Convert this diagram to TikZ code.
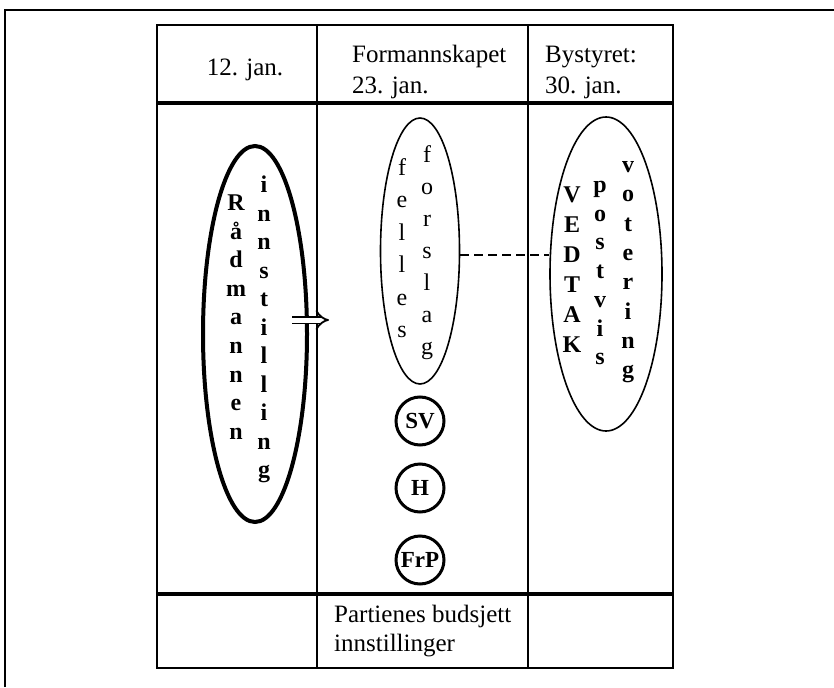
\documentclass[tikz,border=0pt]{standalone}
\usepackage{fontspec}
\setmainfont{Liberation Serif}
\usetikzlibrary{shapes.geometric,arrows.meta}
\begin{document}
\begin{tikzpicture}[x=1pt,y=-1pt,
  frame/.style={line width=2.5pt},
  rule/.style={line width=2.2pt},
  heavyrule/.style={line width=4pt},
  label/.style={font=\fontsize{25}{31}\selectfont, align=left, inner sep=0pt},
  footlabel/.style={font=\fontsize{25}{29}\selectfont, align=left, inner sep=0pt},
  letter/.style={font=\fontsize{24}{24}\selectfont, inner sep=0pt, text height=0.7em, text depth=0.2em},
  boldletter/.style={letter, font=\fontsize{24}{24}\selectfont\bfseries},
  oval/.style={draw, ellipse, inner sep=0pt},
  party/.style={draw, circle, line width=3pt, minimum size=48pt, inner sep=0pt, font=\fontsize{23}{23}\selectfont\bfseries},
  linkline/.style={line width=1.5pt, dash pattern=on 9pt off 5pt},
  implies/.style={double, double distance=5pt, line width=1.8pt, -{Implies[scale=1.3]}},
]
\useasboundingbox (0,0) rectangle (834,687);

% outer frame
\draw[frame] (5,687) -- (5,10) -- (834,10);

% table grid
\draw[rule] (157,25) rectangle (673,668);
\draw[rule] (317,25) -- (317,668);
\draw[rule] (528,25) -- (528,668);
\draw[heavyrule] (157,103) -- (673,103);
\draw[heavyrule] (157,594) -- (673,594);

% column headings
\node[label] (h1) at (245,70) {12. jan.};
\node[label, anchor=west] (h2) at (352,72) {Formannskapet\\23. jan.};
\node[label, anchor=west] (h3) at (545,72) {Bystyret:\\30. jan.};

% footer
\node[footlabel, anchor=west] (foot) at (334,631) {Partienes budsjett\\innstillinger};

% ovals
\node[oval, line width=4pt, minimum width=104pt, minimum height=376pt] (radE) at (255,334) {};
\node[oval, line width=1.6pt, minimum width=79pt, minimum height=266pt] (felE) at (420,251) {};
\node[oval, line width=1.6pt, minimum width=112pt, minimum height=314pt] (vedE) at (606,274) {};

% vertical words
\foreach \ch [count=\i] in {R,å,d,m,a,n,n,e,n}
  \node[boldletter] (rad\i) at (236,{208+28.6*(\i-1)}) {\ch};
\foreach \ch [count=\i] in {i,n,n,s,t,i,l,l,i,n,g}
  \node[boldletter] (inn\i) at (264,{190+28.5*(\i-1)}) {\ch};
\foreach \ch [count=\i] in {f,e,l,l,e,s}
  \node[letter] (fel\i) at (402,{173+32.4*(\i-1)}) {\ch};
\foreach \ch [count=\i] in {f,o,r,s,l,a,g}
  \node[letter] (for\i) at (427,{160+32*(\i-1)}) {\ch};
\foreach \ch [count=\i] in {V,E,D,T,A,K}
  \node[boldletter] (ved\i) at (572,{200+30*(\i-1)}) {\ch};
\foreach \ch [count=\i] in {p,o,s,t,v,i,s}
  \node[boldletter] (pos\i) at (600,{190+28.7*(\i-1)}) {\ch};
\foreach \ch [count=\i] in {v,o,t,e,r,i,n,g}
  \node[boldletter] (vot\i) at (628,{170+29.3*(\i-1)}) {\ch};

% party circles
\node[party] (sv) at (420,421) {SV};
\node[party] (h) at (420,488) {H};
\node[party] (frp) at (420,560) {FrP};

% connectors
\coordinate (arrS) at (292,320);
\coordinate (arrE) at (329,320);
\draw[implies] (arrS) -- (arrE);
\coordinate (linkS) at ([yshift=-4pt]felE.east);
\draw[linkline] (linkS) -- (vedE.west |- linkS);
\end{tikzpicture}
\end{document}
